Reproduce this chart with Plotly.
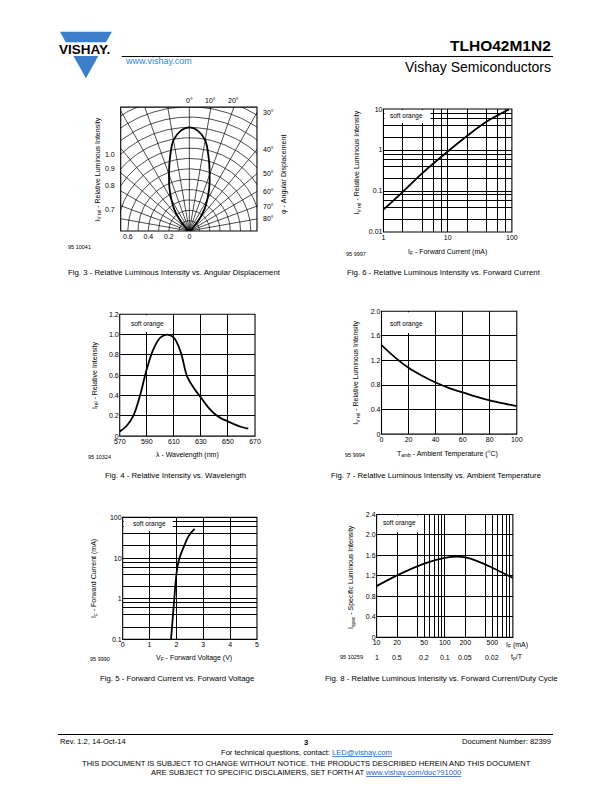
import math
import numpy as np
import plotly.graph_objects as go

W, H = 612, 792
FONT = "Liberation Sans, Arial, Helvetica, sans-serif"

# ---------------- data ----------------
# Fig. 3 - relative luminous intensity vs. angular displacement
fig3_angle_deg = [0, 5, 10, 15, 20, 25, 30, 35, 40, 45, 50]
fig3_rel_intensity = [1.0, 0.97, 0.89, 0.73, 0.58, 0.46, 0.35, 0.26, 0.16, 0.07, 0.0]
fig3_ring_radii = [0.1, 0.2, 0.3, 0.4, 0.5, 0.6, 0.7, 0.8, 0.9, 1.0, 1.1, 1.2, 1.3, 1.4]
fig3_spoke_deg = [-80, -70, -60, -50, -40, -30, -20, -10, 0, 10, 20, 30, 40, 50, 60, 70, 80]
fig3_side_angle_deg = [30, 40, 50, 60, 70, 80]
fig3_top_angle_deg = [0, 10, 20]
fig3_left_ring_labels = [1.0, 0.9, 0.8, 0.7]
fig3_bottom_tickvals = [-0.6, -0.4, -0.2, 0]
fig3_bottom_ticktext = ["0.6", "0.4", "0.2", "0"]

# Fig. 6 - relative luminous intensity vs. forward current
fig6_if_ma = [1, 2, 4, 10, 20, 40, 90]
fig6_iv_rel = [0.035, 0.095, 0.27, 0.92, 2.2, 4.9, 9.8]

# Fig. 4 - relative intensity vs. wavelength
fig4_wavelength_nm = [570, 575, 580, 585, 590, 595, 600, 605, 610, 615, 620, 625, 630,
                      635, 640, 645, 650, 655, 660, 665]
fig4_rel_intensity = [0.045, 0.10, 0.20, 0.40, 0.66, 0.86, 0.97, 1.0, 0.97, 0.83, 0.58, 0.47,
                      0.38, 0.29, 0.22, 0.175, 0.145, 0.115, 0.09, 0.075]

# Fig. 7 - relative luminous intensity vs. ambient temperature
fig7_tamb_c = [0, 10, 20, 30, 40, 50, 60, 70, 80, 90, 100]
fig7_iv_rel = [1.45, 1.25, 1.08, 0.95, 0.84, 0.75, 0.68, 0.61, 0.55, 0.50, 0.455]

# Fig. 5 - forward current vs. forward voltage
fig5_vf_v = [1.80, 1.92, 1.98, 2.04, 2.13, 2.29, 2.47, 2.68]
fig5_if_ma = [0.1, 0.96, 2.9, 6.2, 10.7, 20, 36, 52]

# Fig. 8 - specific luminous intensity vs. forward current / duty cycle
fig8_if_ma = [10, 20, 50, 100, 150, 200, 300, 500, 1000]
fig8_ispec = [1.0, 1.21, 1.44, 1.55, 1.575, 1.56, 1.49, 1.36, 1.16]
fig8_if_labels = [10, 20, 50, 100, 200, 500]
fig8_duty_labels = ["1", "0.5", "0.2", "0.1", "0.05", "0.02"]

# tick / grid values
fig6_x_ticks = [1, 10, 100]
fig6_x_minor = [2, 4, 6, 8, 20, 40, 60, 80]
fig6_y_ticks = [0.01, 0.1, 1, 10]
fig6_y_text = ["0.01", "0.1", "1", "10"]
fig6_y_minor = [0.02, 0.04, 0.06, 0.08, 0.2, 0.4, 0.6, 0.8, 2, 4, 6, 8]
fig4_x_ticks = [570, 590, 610, 630, 650, 670]
fig4_y_ticks = [0, 0.2, 0.4, 0.6, 0.8, 1.0, 1.2]
fig4_y_text = ["0", "0.2", "0.4", "0.6", "0.8", "1.0", "1.2"]
fig7_x_ticks = [0, 20, 40, 60, 80, 100]
fig7_y_ticks = [0, 0.4, 0.8, 1.2, 1.6, 2.0]
fig7_y_text = ["0", "0.4", "0.8", "1.2", "1.6", "2.0"]
fig5_x_ticks = [0, 1, 2, 3, 4, 5]
fig5_y_ticks = [0.1, 1, 10, 100]
fig5_y_text = ["0.1", "1", "10", "100"]
fig5_y_minor = [0.2, 0.4, 0.6, 0.8, 2, 4, 6, 8, 20, 40, 60, 80]
fig8_x_minor = [40, 60, 70, 80, 90, 400, 600, 700, 800, 900]
fig8_y_ticks = [0, 0.4, 0.8, 1.2, 1.6, 2.0, 2.4]
fig8_y_text = ["0", "0.4", "0.8", "1.2", "1.6", "2.0", "2.4"]

# ---------------- layout helpers ----------------
def px(x):
    return x / W


def py(y):
    return 1 - y / H


# plot boxes in page pixels: left, top, right, bottom
boxes = {
    1: (117, 104, 256, 229),
    2: (385, 106, 516, 230),
    3: (116, 313, 254, 436),
    4: (383, 310, 521, 434),
    5: (119, 518, 256, 641),
    6: (378, 515, 517, 639),
}

S = 104.5  # px per unit in polar panel
CX = 187.0
L1, T1, R1, B1 = boxes[1]
polar_xr = [-(CX - L1) / S, (R1 - CX) / S]
polar_yr = [0, (B1 - T1) / S]


def axis(n, which, **kw):
    L, T, R, B = boxes[n]
    d = dict(showline=False, zeroline=False, ticks="", showgrid=True,
             gridcolor="black", gridwidth=0.7, fixedrange=True,
             tickfont=dict(family=FONT, size=7, color="black"))
    if which == "x":
        d.update(domain=[px(L), px(R)], anchor="y" if n == 1 else f"y{n}")
    else:
        d.update(domain=[py(B), py(T)], anchor="x" if n == 1 else f"x{n}")
    d.update(kw)
    return d


def minor(vals):
    return dict(tickvals=vals, showgrid=True, gridcolor="black", gridwidth=0.7, ticks="")


fig = go.Figure()
GRID = dict(color="black", width=0.7)

# ---- polar grid (fig 3) ----
gx, gy = [], []
th = np.linspace(0, math.pi, 181)
for r in fig3_ring_radii:
    gx += list(r * np.cos(th)) + [None]
    gy += list(r * np.sin(th)) + [None]
for a in fig3_spoke_deg:
    ar = math.radians(a)
    gx += [0, 2 * math.sin(ar), None]
    gy += [0, 2 * math.cos(ar), None]
fig.add_trace(go.Scatter(x=gx, y=gy, mode="lines", line=GRID, xaxis="x", yaxis="y",
                         hoverinfo="skip", showlegend=False))

lobe_deg = [-a for a in fig3_angle_deg[::-1]] + fig3_angle_deg[1:]
lobe_r = fig3_rel_intensity[::-1] + fig3_rel_intensity[1:]
lx = [r * math.sin(math.radians(a)) for a, r in zip(lobe_deg, lobe_r)]
ly = [r * math.cos(math.radians(a)) for a, r in zip(lobe_deg, lobe_r)]
fig.add_trace(go.Scatter(x=lx, y=ly, mode="lines", line=dict(color="black", width=1.8, shape="spline"),
                         xaxis="x", yaxis="y", showlegend=False))

# ---- other panels ----
for xs, ys, n in [(fig6_if_ma, fig6_iv_rel, 2), (fig4_wavelength_nm, fig4_rel_intensity, 3),
                  (fig7_tamb_c, fig7_iv_rel, 4), (fig5_vf_v, fig5_if_ma, 5),
                  (fig8_if_ma, fig8_ispec, 6)]:
    fig.add_trace(go.Scatter(x=xs, y=ys, mode="lines",
                             line=dict(color="black", width=1.8, shape="spline"),
                             xaxis=f"x{n}", yaxis=f"y{n}", showlegend=False))

lay = dict(
    width=W, height=H, margin=dict(l=0, r=0, t=0, b=0),
    paper_bgcolor="white", plot_bgcolor="white", showlegend=False,
    font=dict(family=FONT, size=7, color="black"),
)
lay["xaxis"] = axis(1, "x", range=polar_xr, showgrid=False, tickvals=fig3_bottom_tickvals,
                    ticktext=fig3_bottom_ticktext)
lay["yaxis"] = axis(1, "y", range=polar_yr, showgrid=False, showticklabels=False)
lay["xaxis2"] = axis(2, "x", type="log", range=[0, 2], tickvals=fig6_x_ticks,
                     ticktext=[str(v) for v in fig6_x_ticks], minor=minor(fig6_x_minor))
lay["yaxis2"] = axis(2, "y", type="log", range=[-2, 1], tickvals=fig6_y_ticks, ticktext=fig6_y_text,
                     minor=minor(fig6_y_minor))
lay["xaxis3"] = axis(3, "x", range=[570, 670], tickvals=fig4_x_ticks)
lay["yaxis3"] = axis(3, "y", range=[0, 1.2], tickvals=fig4_y_ticks, ticktext=fig4_y_text)
lay["xaxis4"] = axis(4, "x", range=[0, 100], tickvals=fig7_x_ticks)
lay["yaxis4"] = axis(4, "y", range=[0, 2.0], tickvals=fig7_y_ticks, ticktext=fig7_y_text)
lay["xaxis5"] = axis(5, "x", range=[0, 5], tickvals=fig5_x_ticks)
lay["yaxis5"] = axis(5, "y", type="log", range=[-1, 2], tickvals=fig5_y_ticks, ticktext=fig5_y_text,
                     minor=minor(fig5_y_minor))
lay["xaxis6"] = axis(6, "x", type="log", range=[1, 3], tickvals=fig8_if_labels,
                     ticktext=[str(v) for v in fig8_if_labels], minor=minor(fig8_x_minor))
lay["yaxis6"] = axis(6, "y", range=[0, 2.4], tickvals=fig8_y_ticks, ticktext=fig8_y_text)
fig.update_layout(**lay)

shapes = []
ann = []


def txt(x, y, text, size=7, xa="center", ya="middle", angle=0, color="black", **kw):
    d = dict(x=px(x), y=py(y), xref="paper", yref="paper", text=text, showarrow=False,
             xanchor=xa, yanchor=ya, textangle=angle,
             font=dict(family=FONT, size=size, color=color))
    d.update(kw)
    ann.append(d)


# soft orange label boxes (white) : pixel boxes
label_boxes = {
    2: (386, 107, 433, 120),
    3: (117, 314, 165, 331),
    4: (384, 311, 431, 332),
    5: (120, 519, 170, 532),
    6: (379, 516, 425, 533),
}
label_pos = {2: (408, 113.5), 3: (144, 322.5), 4: (409, 323), 5: (146, 525), 6: (401, 524)}
for n, (l, t, r, b) in label_boxes.items():
    shapes.append(dict(type="rect", xref="paper", yref="paper", x0=px(l), x1=px(r), y0=py(b), y1=py(t),
                       fillcolor="white", line=dict(width=0), layer="above"))
    txt(*label_pos[n], "soft orange", size=6.5)

# frames
for n, (l, t, r, b) in boxes.items():
    shapes.append(dict(type="rect", xref="paper", yref="paper", x0=px(l), x1=px(r), y0=py(b), y1=py(t),
                       line=dict(color="black", width=1.1), fillcolor="rgba(0,0,0,0)", layer="above"))

# ---- polar labels ----
for a in fig3_side_angle_deg:
    yv = polar_xr[1] / math.tan(math.radians(a))
    ann.append(dict(x=polar_xr[1], y=yv, xref="x", yref="y", text=f"{a}°", showarrow=False,
                    xanchor="left", yanchor="middle", xshift=4, font=dict(family=FONT, size=7)))
for a in fig3_top_angle_deg:
    xv = polar_yr[1] * math.tan(math.radians(a))
    ann.append(dict(x=xv, y=polar_yr[1], xref="x", yref="y", text=f"{a}°", showarrow=False,
                    xanchor="center", yanchor="bottom", yshift=1, font=dict(family=FONT, size=7)))
for r in fig3_left_ring_labels:
    yv = math.sqrt(r * r - polar_xr[0] ** 2)
    ann.append(dict(x=polar_xr[0], y=yv, xref="x", yref="y", text=f"{r:.1f}", showarrow=False,
                    xanchor="right", yanchor="middle", xshift=-4, font=dict(family=FONT, size=7)))

# ---- axis titles ----
txt(93, 167, "I<sub>V rel</sub> - Relative Luminous Intensity", size=7, angle=-90)
txt(284, 172, "φ - Angular Displacement", size=7, angle=-90)
txt(75, 245, "95 10041", size=5.5)

txt(358, 160, "I<sub>V rel</sub> - Relative Luminous Intensity", size=7, angle=-90)
txt(450, 250, "I<sub>F</sub> - Forward Current (mA)", size=7)
txt(357, 252, "95 9997", size=5.5)

txt(90, 375, "I<sub>rel</sub> - Relative Intensity", size=7, angle=-90)
txt(185, 455, "λ - Wavelength (nm)", size=7)
txt(95, 457, "95 10324", size=5.5)

txt(357, 372, "I<sub>V rel</sub> - Relative Luminous Intensity", size=7, angle=-90)
txt(450, 454, "T<sub>amb</sub> - Ambient Temperature (°C)", size=7)
txt(356, 455, "95 9994", size=5.5)

txt(90, 580, "I<sub>F</sub> - Forward Current (mA)", size=7, angle=-90)
txt(192, 660, "V<sub>F</sub> - Forward Voltage (V)", size=7)
txt(96, 661, "95 9990", size=5.5)

txt(352, 578, "I<sub>spec</sub> - Specific Luminous Intensity", size=7, angle=-90)
for v, d in zip(fig8_if_labels, fig8_duty_labels):
    ann.append(dict(x=math.log10(v), y=py(659), xref="x6", yref="paper", text=d, showarrow=False,
                    xanchor="center", yanchor="middle", font=dict(family=FONT, size=7)))
ann.append(dict(x=3, y=py(647), xref="x6", yref="paper", text="I<sub>F</sub> (mA)", showarrow=False,
                xanchor="center", yanchor="middle", xshift=4, font=dict(family=FONT, size=7)))
ann.append(dict(x=3, y=py(659), xref="x6", yref="paper", text="t<sub>p</sub>/T", showarrow=False,
                xanchor="center", yanchor="middle", xshift=4, font=dict(family=FONT, size=7)))
txt(352, 659, "95 10259", size=5.5)

# ---- captions ----
CAP = 7.8
txt(172, 271, "Fig. 3 - Relative Luminous Intensity vs. Angular Displacement", size=CAP)
txt(447, 271, "Fig. 6 - Relative Luminous Intensity vs. Forward Current", size=CAP)
txt(173, 476, "Fig. 4 - Relative Intensity vs. Wavelength", size=CAP)
txt(439, 476, "Fig. 7 - Relative Luminous Intensity vs. Ambient Temperature", size=CAP)
txt(174, 681, "Fig. 5 - Forward Current vs. Forward Voltage", size=CAP)
txt(444, 681, "Fig. 8 - Relative Luminous Intensity vs. Forward Current/Duty Cycle", size=CAP)

# ---- header ----
BLUE = "#3C7EC8"
shapes.append(dict(type="path", xref="paper", yref="paper",
                   path=f"M {px(55)} {py(28)} L {px(108)} {py(28)} L {px(81.5)} {py(75)} Z",
                   fillcolor=BLUE, line=dict(width=0), layer="above"))
shapes.append(dict(type="rect", xref="paper", yref="paper", x0=px(48), x1=px(118), y0=py(52.5), y1=py(38.5),
                   fillcolor="white", line=dict(width=0), layer="above"))
txt(80, 45.5, "<b>VISHAY.</b>", size=13.5)
txt(119, 58, "www.vishay.com", size=9, xa="left", color="#2E86DE")
shapes.append(dict(type="line", xref="paper", yref="paper", x0=px(118), x1=px(558), y0=py(53), y1=py(53),
                   line=dict(color="black", width=1)))
txt(558, 42, "<b>TLHO42M1N2</b>", size=15.5, xa="right")
txt(558, 64, "Vishay Semiconductors", size=14, xa="right")

# ---- footer ----
FT = 7.6
shapes.append(dict(type="line", xref="paper", yref="paper", x0=px(53), x1=px(558), y0=py(737), y1=py(737),
                   line=dict(color="black", width=1)))
txt(53, 744, "Rev. 1.2, 14-Oct-14", size=FT, xa="left")
txt(306, 745, "<b>3</b>", size=FT)
txt(558, 744, "Document Number: 82399", size=FT, xa="right")
txt(306, 755, "For technical questions, contact: <span style='color:#1F5FC4'><u>LED@vishay.com</u></span>",
    size=FT)
txt(306, 766, "THIS DOCUMENT IS SUBJECT TO CHANGE WITHOUT NOTICE. THE PRODUCTS DESCRIBED HEREIN AND THIS DOCUMENT",
    size=FT)
txt(306, 775, "ARE SUBJECT TO SPECIFIC DISCLAIMERS, SET FORTH AT "
              "<span style='color:#1F5FC4'><u>www.vishay.com/doc?91000</u></span>", size=FT)

fig.update_layout(shapes=shapes, annotations=ann)
fig.write_html("out.html", config={"displayModeBar": False},
               post_script="document.body.style.margin='0';document.body.style.padding='0';"
                           "document.body.style.overflow='hidden';")
